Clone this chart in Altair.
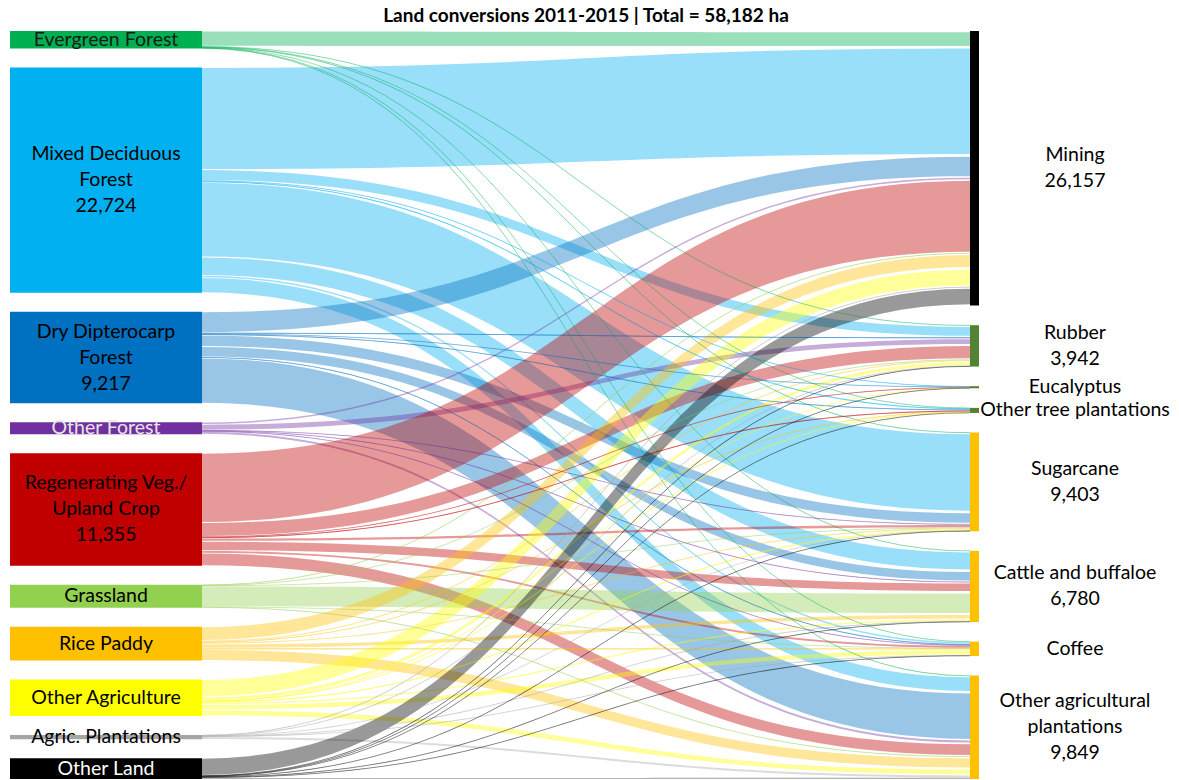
import altair as alt
import numpy as np
import pandas as pd

# ---- Nodes -------------------------------------------------------------
sources = [
    "Evergreen Forest", "Mixed Deciduous Forest", "Dry Dipterocarp Forest",
    "Other Forest", "Regenerating Veg./Upland Crop", "Grassland", "Rice Paddy",
    "Other Agriculture", "Agric. Plantations", "Other Land",
]
source_labels = [
    "Evergreen Forest", "Mixed Deciduous\nForest", "Dry Dipterocarp\nForest",
    "Other Forest", "Regenerating Veg./\nUpland Crop", "Grassland", "Rice Paddy",
    "Other Agriculture", "Agric. Plantations", "Other Land",
]
source_show_value = [False, True, True, False, True, False, False, False, False, False]
source_colors = [
    "#00B050", "#00B0F0", "#0070C0", "#7030A0", "#C00000",
    "#92D050", "#FFC000", "#FFFF00", "#A5A5A5", "#000000",
]
source_text_colors = [
    "#1a1a1a", "#000000", "#000000", "#e6e6e6", "#000000",
    "#000000", "#000000", "#000000", "#000000", "#ffffff",
]

targets = [
    "Mining", "Rubber", "Eucalyptus", "Other tree plantations", "Sugarcane",
    "Cattle and buffaloe", "Coffee", "Other agricultural plantations",
]
target_labels = [
    "Mining", "Rubber", "Eucalyptus", "Other tree plantations", "Sugarcane",
    "Cattle and buffaloe", "Coffee", "Other agricultural\nplantations",
]
target_show_value = [True, True, False, False, True, True, False, True]
target_colors = [
    "#000000", "#548235", "#548235", "#548235",
    "#FFC000", "#FFC000", "#FFC000", "#FFC000",
]

# ---- Conversions (ha): one list per source, columns follow `targets` ----
flows_evergreen = [1550, 40, 0, 30, 40, 30, 31, 40]
flows_mixed_deciduous = [10300, 1100, 60, 120, 7530, 1870, 200, 1544]
flows_dry_dipterocarp = [2100, 120, 40, 90, 1150, 1050, 100, 4567]
flows_other_forest = [200, 600, 0, 0, 50, 50, 40, 260]
flows_regenerating = [7000, 1412, 50, 120, 300, 950, 250, 1273]
flows_grassland = [60, 30, 0, 0, 30, 2100, 30, 60]
flows_rice_paddy = [1400, 150, 0, 40, 150, 450, 100, 1130]
flows_other_agriculture = [1750, 400, 20, 50, 100, 200, 550, 600]
flows_agric_plantations = [60, 40, 0, 0, 13, 40, 30, 250]
flows_other_land = [1737, 50, 30, 30, 40, 40, 40, 125]

flow_rows = [
    flows_evergreen, flows_mixed_deciduous, flows_dry_dipterocarp,
    flows_other_forest, flows_regenerating, flows_grassland, flows_rice_paddy,
    flows_other_agriculture, flows_agric_plantations, flows_other_land,
]
flows = np.array(flow_rows, dtype=float)
source_totals = flows.sum(axis=1)
target_totals = flows.sum(axis=0)
grand_total = flows.sum()

# ---- Layout (canvas units) ---------------------------------------------
W, H = 1179, 780
TOP, BOTTOM = 31, 779
LEFT_BOX = (10, 202)
RIGHT_BAR = (970, 979)
GAP_LEFT = 19.0
GAP_RIGHT = 19.6
LABEL_RIGHT_X = 1075
LINE_HEIGHT = 26
LABEL_SIZE = 19.5
INSET_SOURCE = 1.0   # white seam between neighbouring bands at the source end
INSET_TARGET = 2.6   # wider seam at the target end

scale_left = (BOTTOM - TOP - GAP_LEFT * (len(sources) - 1)) / grand_total
scale_right = (BOTTOM - TOP - GAP_RIGHT * (len(targets) - 1)) / grand_total


def stack(totals, scale, gap):
    out, y = [], TOP
    for t in totals:
        out.append((y, y + t * scale))
        y += t * scale + gap
    return out


left_nodes = stack(source_totals, scale_left, GAP_LEFT)
right_nodes = stack(target_totals, scale_right, GAP_RIGHT)

# where each link sits at its source (ordered by target) and target (ordered by source)
src_offset = {}
for i in range(len(sources)):
    y = left_nodes[i][0]
    for j in range(len(targets)):
        v = flows[i, j]
        src_offset[(i, j)] = (y, y + v * scale_left)
        y += v * scale_left
tgt_offset = {}
for j in range(len(targets)):
    y = right_nodes[j][0]
    for i in range(len(sources)):
        v = flows[i, j]
        tgt_offset[(i, j)] = (y, y + v * scale_right)
        y += v * scale_right

# ---- Link geometry: horizontal cubic Bezier bands -----------------------
u = np.linspace(0, 1, 48)
x0, x1 = LEFT_BOX[1], RIGHT_BAR[0]
xm = (x0 + x1) / 2
bx = x0 * (1 - u) ** 3 + 3 * xm * (1 - u) ** 2 * u + 3 * xm * (1 - u) * u ** 2 + x1 * u ** 3
by = 3 * u ** 2 - 2 * u ** 3

link_rows = []
thread_rows = []
for i in range(len(sources)):
    for j in range(len(targets)):
        v = flows[i, j]
        if v <= 0:
            continue
        (s0, s1), (t0, t1) = src_offset[(i, j)], tgt_offset[(i, j)]
        ws, wt = s1 - s0, t1 - t0
        ins_s = min(INSET_SOURCE, 0.25 * ws) / 2
        ins_t = min(INSET_TARGET, 0.25 * wt) / 2
        inset = ins_s * (1 - by) + ins_t * by
        top = s0 + (t0 - s0) * by + inset
        bot = s1 + (t1 - s1) * by - inset
        key = f"{i:02d}-{j:02d}"
        thin = max(ws, wt) < 1.3
        for k in range(len(u)):
            row = {
                "link": key, "source": sources[i], "target": targets[j],
                "ha": v, "x": bx[k], "y_top": top[k], "y_bot": bot[k],
                "y_mid": (top[k] + bot[k]) / 2,
            }
            link_rows.append(row)
            if thin:
                thread_rows.append(row)
links = pd.DataFrame(link_rows)
thin_links = pd.DataFrame(thread_rows)


def block_y(label, yc):
    # first line sits at the returned y so that the whole block is centred on yc
    n = label.count("\n") + 1
    return yc - (n - 1) * LINE_HEIGHT / 2


left_labels = [
    lab + (f"\n{int(round(t)):,}" if show else "")
    for lab, t, show in zip(source_labels, source_totals, source_show_value)
]
left_df = pd.DataFrame({
    "node": sources,
    "x0": LEFT_BOX[0], "x1": LEFT_BOX[1],
    "y0": [a for a, b in left_nodes], "y1": [b for a, b in left_nodes],
    "label": left_labels,
    "text_color": source_text_colors,
})
left_df["xc"] = (left_df["x0"] + left_df["x1"]) / 2
left_df["yc"] = [block_y(l, (a + b) / 2) for l, (a, b) in zip(left_labels, left_nodes)]

right_labels = [
    lab + (f"\n{int(round(t)):,}" if show else "")
    for lab, t, show in zip(target_labels, target_totals, target_show_value)
]
right_df = pd.DataFrame({
    "node": targets,
    "x0": RIGHT_BAR[0], "x1": RIGHT_BAR[1],
    "y0": [a for a, b in right_nodes], "y1": [b for a, b in right_nodes],
    "label": right_labels,
})
right_df["xc"] = LABEL_RIGHT_X
right_df["yc"] = [block_y(l, (a + b) / 2) for l, (a, b) in zip(right_labels, right_nodes)]

title_df = pd.DataFrame({
    "text": [f"Land conversions 2011-2015 | Total = {int(round(grand_total)):,} ha"],
    "x": [(x0 + x1) / 2], "y": [TOP / 2],
})

FONT = "Lato"
xs = alt.Scale(domain=[0, W], nice=False, zero=False)
ys = alt.Scale(domain=[0, H], nice=False, zero=False, reverse=True)
src_color = alt.Scale(domain=sources, range=source_colors)

bands = alt.Chart(links).mark_area(opacity=0.4, interpolate="linear").encode(
    x=alt.X("x:Q", scale=xs, axis=None),
    y=alt.Y("y_top:Q", scale=ys, axis=None, stack=None),
    y2="y_bot:Q",
    detail="link:N",
    color=alt.Color("source:N", scale=src_color, legend=None),
)

threads = alt.Chart(thin_links).mark_line(strokeWidth=1.0, opacity=0.4).encode(
    x=alt.X("x:Q", scale=xs, axis=None),
    y=alt.Y("y_mid:Q", scale=ys, axis=None),
    detail="link:N",
    color=alt.Color("source:N", scale=src_color, legend=None),
    order=alt.Order("x:Q"),
)

left_boxes = alt.Chart(left_df).mark_rect().encode(
    x=alt.X("x0:Q", scale=xs, axis=None), x2="x1:Q",
    y=alt.Y("y0:Q", scale=ys, axis=None), y2="y1:Q",
    color=alt.Color("node:N", scale=src_color, legend=None),
)

right_bars = alt.Chart(right_df).mark_rect().encode(
    x=alt.X("x0:Q", scale=xs, axis=None), x2="x1:Q",
    y=alt.Y("y0:Q", scale=ys, axis=None), y2="y1:Q",
    color=alt.Color("node:N", scale=alt.Scale(domain=targets, range=target_colors), legend=None),
)

left_text = alt.Chart(left_df).mark_text(
    font=FONT, fontSize=LABEL_SIZE, lineBreak="\n", lineHeight=LINE_HEIGHT,
    align="center", baseline="middle",
).encode(
    x=alt.X("xc:Q", scale=xs, axis=None),
    y=alt.Y("yc:Q", scale=ys, axis=None),
    text="label:N",
    color=alt.Color("text_color:N", scale=None),
)

right_text = alt.Chart(right_df).mark_text(
    font=FONT, fontSize=LABEL_SIZE, lineBreak="\n", lineHeight=LINE_HEIGHT,
    align="center", baseline="middle", color="#000000",
).encode(
    x=alt.X("xc:Q", scale=xs, axis=None),
    y=alt.Y("yc:Q", scale=ys, axis=None),
    text="label:N",
)

title_text = alt.Chart(title_df).mark_text(
    font=FONT, fontSize=19, fontWeight="bold", align="center", baseline="middle",
    color="#000000",
).encode(
    x=alt.X("x:Q", scale=xs, axis=None),
    y=alt.Y("y:Q", scale=ys, axis=None),
    text="text:N",
)

chart = alt.layer(
    bands, threads, left_boxes, right_bars, left_text, right_text, title_text
).resolve_scale(color="independent").properties(
    width=W, height=H,
    autosize=alt.AutoSizeParams(type="none"),
    padding=0,
).configure_view(stroke=None)

chart.save("out.html", embed_options={"renderer": "svg", "actions": False})
